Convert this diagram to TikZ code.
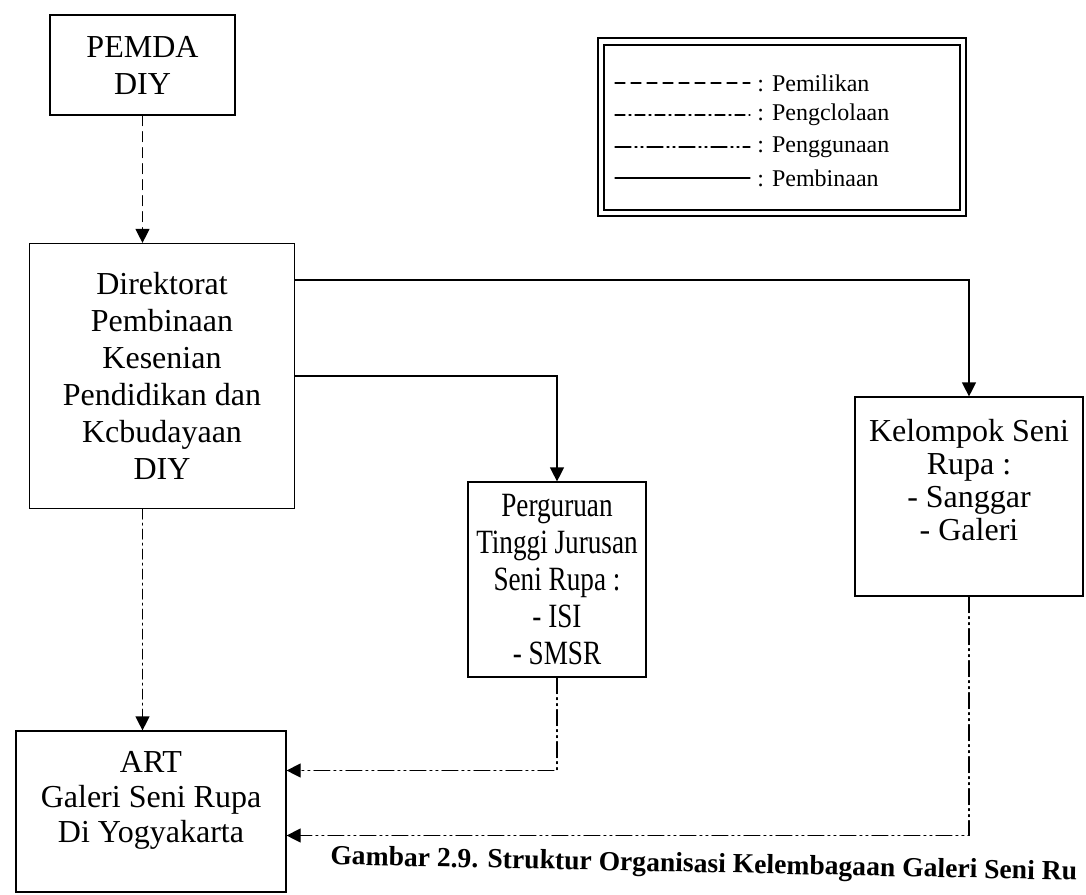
\documentclass[tikz,border=0pt]{standalone}
\usepackage{fontspec}
\setmainfont{Liberation Serif}
\newfontfamily\narrowserif[FakeStretch=0.8]{Liberation Serif}
\usepackage{tikz}
\usetikzlibrary{arrows.meta, calc, positioning}

\begin{document}
\begin{tikzpicture}[x=0.5pt, y=-0.5pt, line cap=round,
	box/.style={draw, line width=0.6pt, align=center, inner sep=0pt, font=\fontsize{16}{18.5}\selectfont},
	narrowbox/.style={box, font=\narrowserif\fontsize{17}{18.5}\selectfont},
	milik/.style={line width=0.6pt, dash pattern=on 5pt off 3pt},
	kelola/.style={line width=0.6pt, dash pattern=on 5pt off 2pt on 1pt off 2pt},
	guna/.style={line width=0.6pt, dash pattern=on 8pt off 2pt on 1pt off 2pt on 1pt off 2pt},
	bina/.style={line width=0.6pt},
	tip/.style={-{Triangle[width=7pt, length=7pt]}}
	]

	\useasboundingbox (0,0) rectangle (1086,894);

	% boxes
	\node[box, minimum width=92.5pt, minimum height=50pt] (pemda) at (142.5,65) {PEMDA\\DIY};
	\node[box, minimum width=132.5pt, minimum height=132.5pt] (dir) at (162,376)
		{Direktorat\\Pembinaan\\Kesenian\\Pendidikan dan\\Kcbudayaan\\DIY};
	\node[narrowbox, minimum width=89pt, minimum height=97.5pt] (perg) at (557,579.5)
		{Perguruan\\Tinggi Jurusan\\Seni Rupa :\\- ISI\\- SMSR};
	\node[box, minimum width=114pt, minimum height=99.5pt, font=\fontsize{16}{16.5}\selectfont] (kel) at (969,496.5)
		{Kelompok Seni\\Rupa :\\- Sanggar\\- Galeri\\\mbox{}};
	\node[box, minimum width=135pt, minimum height=80.5pt, font=\fontsize{16}{17.5}\selectfont] (art) at (151,811.5)
		{ART\\Galeri Seni Rupa\\Di Yogyakarta\\[-3pt]\mbox{}};

	\coordinate (artA) at ($(art.east)+(0,-41)$);
	\coordinate (artB) at ($(art.east)+(0,24)$);

	% connectors
	\draw[milik, tip] (pemda) -- (pemda |- dir.north);
	\draw[kelola, tip] (dir.south -| pemda) -- (pemda |- art.north);
	\draw[bina, tip] ($(dir.north east)+(0,37)$) -| (kel);
	\draw[bina, tip] ($(dir.north east)+(0,133)$) -| (perg);
	\draw[guna, tip] (perg) |- (artA);
	\draw[guna, tip] (kel) |- (artB);

	% legend
	\draw[line width=0.6pt] (598,38) rectangle (966,216);
	\draw[line width=0.6pt] (604,45) rectangle (960,210);
	\foreach \y/\sty/\txt in {83/milik/Pemilikan, 115/kelola/Pengclolaan, 147/guna/Penggunaan, 178/bina/Pembinaan}{
		\draw[\sty] (615,\y) -- (750,\y);
		\node[anchor=west, inner sep=0pt, font=\fontsize{12}{14}\selectfont] at (757,\y) {: \txt};
	}

	% caption
	\node[anchor=west, inner sep=0pt, rotate=-1.2, font=\bfseries\fontsize{13.8}{16}\selectfont] (caption) at (330,858)
		{Gambar 2.9. Struktur Organisasi Kelembagaan Galeri Seni Ru};

\end{tikzpicture}
\end{document}
